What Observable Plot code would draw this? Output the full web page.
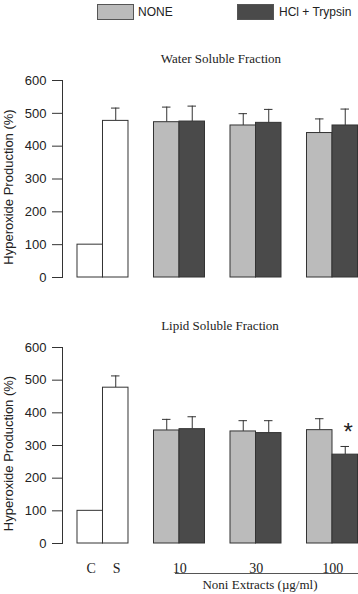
<!DOCTYPE html>
<html><head><meta charset="utf-8">
<script src="https://cdn.jsdelivr.net/npm/d3@7"></script>
<script src="https://cdn.jsdelivr.net/npm/@observablehq/plot@0.6"></script>
<style>
body{margin:0;background:#fff;width:358px;height:594px;overflow:hidden;position:relative;font-family:"Liberation Sans",Arial,sans-serif;color:#222}
.abs{position:absolute}
.sw{position:absolute;width:35px;height:14px;border:1px solid #555;z-index:2}
.lt{position:absolute;font-size:12px;line-height:14px;top:5px;z-index:2}
.ttl{position:absolute;font-family:"Liberation Serif","Times New Roman",serif;font-size:13px;line-height:16px;text-align:center;width:200px;z-index:2}
</style></head>
<body>
<div class="sw" style="left:97px;top:4px;background:#bbbbbb"></div>
<div class="lt" style="left:138px">NONE</div>
<div class="sw" style="left:237px;top:4px;background:#4a4a4a"></div>
<div class="lt" style="left:279px">HCl + Trypsin</div>
<div id="top" class="abs" style="left:0;top:0"></div>
<div id="bottom" class="abs" style="left:0;top:290px"></div>
<div class="ttl" style="left:121px;top:51px">Water Soluble Fraction</div>
<div class="ttl" style="left:120px;top:318px">Lipid Soluble Fraction</div>
<div class="abs" style="left:175px;top:573px;width:183px;border-top:1px solid #555;z-index:2"></div>
<div class="ttl" style="left:160px;top:577px">Noni Extracts (µg/ml)</div>
<script>
const controlLabels = ["C", "S"];
const doses = ["10", "30", "100"];
const yTicks = [0, 100, 200, 300, 400, 500, 600];

// Water soluble fraction
const waterControl = [100, 477];
const waterControlErr = [0, 39];
const waterNone = [473, 463, 440];
const waterNoneErr = [46, 36, 43];
const waterHcl = [475, 471, 463];
const waterHclErr = [47, 41, 50];

// Lipid soluble fraction
const lipidControl = [100, 477];
const lipidControlErr = [0, 36];
const lipidNone = [346, 343, 347];
const lipidNoneErr = [34, 33, 35];
const lipidHcl = [350, 338, 272];
const lipidHclErr = [38, 38, 25];
const lipidHclSig = [false, false, true];

const colors = {control: "white", none: "#bbbbbb", hcl: "#4a4a4a"};
const slots = ["C", "S", "g1", "10N", "10H", "g2", "30N", "30H", "g3", "100N", "100H"];

function panel(ctrl, ctrlErr, none, noneErr, hcl, hclErr, sig, o) {
  const rows = [];
  controlLabels.forEach((c, i) => rows.push({slot: c, value: ctrl[i], err: ctrlErr[i], kind: "control", sig: false}));
  doses.forEach((d, i) => {
    rows.push({slot: d + "N", value: none[i], err: noneErr[i], kind: "none", sig: false});
    rows.push({slot: d + "H", value: hcl[i], err: hclErr[i], kind: "hcl", sig: sig ? sig[i] : false});
  });
  const withErr = rows.filter(d => d.err > 0);
  const marks = [
    Plot.frame({anchor: "left", stroke: "#333"}),
    Plot.axisY({ticks: yTicks, tickSize: 10, tickPadding: 6, label: null, stroke: "#333", fill: "#222"}),
    Plot.ruleX(withErr, {x: "slot", y1: "value", y2: d => d.value + d.err, stroke: "#333"}),
    Plot.tickY(withErr, {x: "slot", y: d => d.value + d.err, stroke: "#333", insetLeft: 8.5, insetRight: 8.5}),
    Plot.barY(rows, {x: "slot", y: "value", fill: d => colors[d.kind], stroke: "#333", strokeWidth: 1}),
    Plot.text(["Hyperoxide Production (%)"], {frameAnchor: "left", textAnchor: "middle", rotate: -90, dx: -54, dy: o.labelDy, fontSize: 13, fill: "#222"}),
    Plot.text(rows.filter(d => d.sig), {x: "slot", y: d => d.value + d.err, text: () => "*", dx: 3, dy: -14, fontSize: 24, fill: "#222"})
  ];
  if (o.xLabels) {
    marks.push(Plot.text(controlLabels, {x: d => d, frameAnchor: "bottom", dx: 1, dy: 29, lineAnchor: "bottom", fontFamily: "Liberation Serif", fontSize: 14, fill: "#222"}));
    marks.push(Plot.text(doses, {x: d => d + "N", frameAnchor: "bottom", dx: 13, dy: 29, lineAnchor: "bottom", fontFamily: "Liberation Serif", fontSize: 14, fill: "#222"}));
  }
  return Plot.plot({
    width: 358, height: o.height,
    marginLeft: 62, marginRight: 0.5, marginTop: o.marginTop, marginBottom: o.marginBottom,
    style: {fontFamily: "'Liberation Sans', Arial, sans-serif", fontSize: "13px", background: "transparent"},
    x: {type: "band", domain: slots, paddingInner: 0, paddingOuter: 0.294, align: 1, round: false, axis: null},
    y: {domain: [0, 600], axis: null},
    color: {type: "identity"},
    marks
  });
}

document.getElementById("top").append(panel(waterControl, waterControlErr, waterNone, waterNoneErr, waterHcl, waterHclErr, null,
  {height: 290, marginTop: 80, marginBottom: 13, labelDy: 8, xLabels: false}));
document.getElementById("bottom").append(panel(lipidControl, lipidControlErr, lipidNone, lipidNoneErr, lipidHcl, lipidHclErr, lipidHclSig,
  {height: 304, marginTop: 57, marginBottom: 51, labelDy: 8, xLabels: true}));
</script>
</body></html>
